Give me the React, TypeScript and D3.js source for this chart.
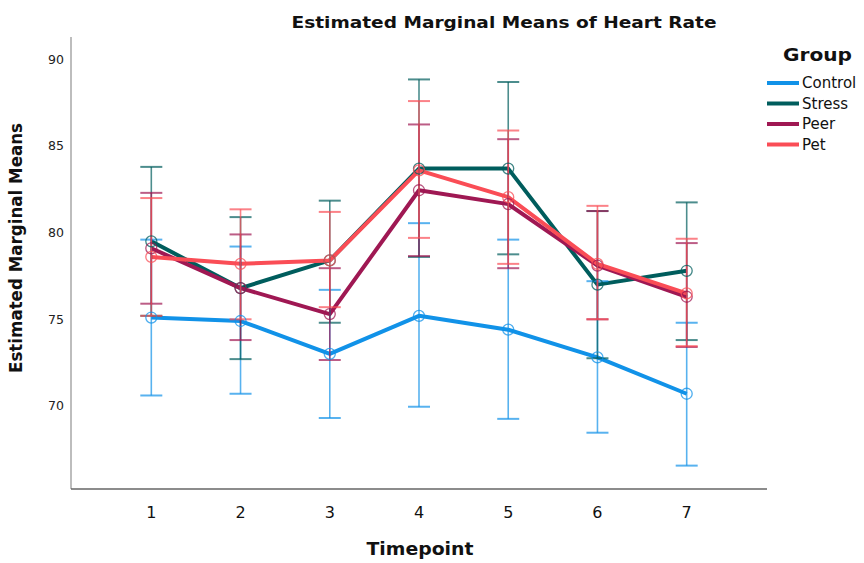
import React from "react";
import * as d3 from "d3";

const timepoints = [1, 2, 3, 4, 5, 6, 7];
const groups = ["Control", "Stress", "Peer", "Pet"];
const colors = ["#1192e8", "#005d5d", "#9f1853", "#fa4d56"];

const controlMean = [75.1, 74.9, 73.0, 75.2, 74.4, 72.8, 70.7];
const controlLo = [70.6, 70.7, 69.3, 69.95, 69.25, 68.45, 66.55];
const controlHi = [79.6, 79.2, 76.7, 80.55, 79.6, 77.2, 74.8];

const stressMean = [79.5, 76.8, 78.4, 83.7, 83.7, 77.0, 77.8];
const stressLo = [75.2, 72.7, 74.8, 78.6, 78.75, 72.75, 73.8];
const stressHi = [83.8, 80.9, 81.85, 88.85, 88.7, 81.25, 81.75];

const peerMean = [79.1, 76.8, 75.3, 82.45, 81.65, 78.1, 76.3];
const peerLo = [75.9, 73.8, 72.65, 78.65, 77.95, 75.0, 73.4];
const peerHi = [82.3, 79.9, 77.95, 86.25, 85.4, 81.25, 79.4];

const petMean = [78.6, 78.2, 78.4, 83.6, 82.05, 78.2, 76.5];
const petLo = [75.2, 75.0, 75.7, 79.7, 78.2, 75.0, 73.45];
const petHi = [82.0, 81.35, 81.2, 87.6, 85.9, 81.55, 79.65];

const yTicks = [70, 75, 80, 85, 90];

const series = [
  { name: groups[0], color: colors[0], mean: controlMean, lo: controlLo, hi: controlHi },
  { name: groups[1], color: colors[1], mean: stressMean, lo: stressLo, hi: stressHi },
  { name: groups[2], color: colors[2], mean: peerMean, lo: peerLo, hi: peerHi },
  { name: groups[3], color: colors[3], mean: petMean, lo: petLo, hi: petHi },
];

const FONT = "'DejaVu Sans', 'Open Sans', sans-serif";

export default function App() {
  const W = 864, H = 563;
  const left = 71, right = 767, top = 37, bottom = 489;
  const x = d3.scalePoint<number>().domain(timepoints).range([left, right]).padding(0.9);
  const y = d3.scaleLinear().domain([65.2, 91.3]).range([bottom, top]);
  const line = d3
    .line<number>()
    .x((_, i) => x(timepoints[i]) as number)
    .y((d) => y(d));
  const capW = 11;

  return (
    <svg width={W} height={H} style={{ position: "absolute", left: 0, top: 0, background: "#fff" }}>
      <text x={504} y={28} textAnchor="middle" fontFamily={FONT} fontWeight="bold" fontSize={16} fill="#111"
        textLength={425} lengthAdjust="spacingAndGlyphs">
        Estimated Marginal Means of Heart Rate
      </text>

      {/* axes */}
      <line x1={left} x2={left} y1={top} y2={bottom} stroke="#9a9a9a" strokeWidth={1.3} />
      <line x1={left} x2={right} y1={bottom} y2={bottom} stroke="#666" strokeWidth={1.3} />
      {yTicks.map((t) => (
        <text key={t} x={64} y={y(t)} dy="0.35em" textAnchor="end" fontFamily={FONT} fontSize={12.5} fill="#222">
          {t}
        </text>
      ))}
      {timepoints.map((t) => (
        <text key={t} x={x(t)} y={518} textAnchor="middle" fontFamily={FONT} fontSize={16} fill="#111">
          {t}
        </text>
      ))}
      <text x={420} y={555} textAnchor="middle" fontFamily={FONT} fontWeight="bold" fontSize={17} fill="#111"
        textLength={107} lengthAdjust="spacingAndGlyphs">
        Timepoint
      </text>
      <text
        transform={`translate(22,${248}) rotate(-90)`}
        textAnchor="middle"
        fontFamily={FONT}
        fontWeight="bold"
        fontSize={17}
        fill="#111"
        textLength={250}
        lengthAdjust="spacingAndGlyphs"
      >
        Estimated Marginal Means
      </text>

      {/* lines */}
      {series.map((s) => (
        <path key={s.name} d={line(s.mean) || ""} fill="none" stroke={s.color} strokeWidth={4} strokeLinejoin="round" />
      ))}
      {/* error bars */}
      {series.map((s) => (
        <g key={s.name} stroke={s.color} strokeOpacity={0.7} strokeWidth={1.6}>
          {timepoints.map((t, i) => {
            const cx = x(t) as number;
            return (
              <g key={t}>
                <line x1={cx} x2={cx} y1={y(s.lo[i])} y2={y(s.hi[i])} />
                <line x1={cx - capW} x2={cx + capW} y1={y(s.lo[i])} y2={y(s.lo[i])} strokeWidth={2} />
                <line x1={cx - capW} x2={cx + capW} y1={y(s.hi[i])} y2={y(s.hi[i])} strokeWidth={2} />
              </g>
            );
          })}
        </g>
      ))}
      {/* markers */}
      {series.map((s) => (
        <g key={s.name} fill="none" stroke={s.color} strokeOpacity={0.75} strokeWidth={1.3}>
          {timepoints.map((t, i) => (
            <circle key={t} cx={x(t) as number} cy={y(s.mean[i])} r={5.5} />
          ))}
        </g>
      ))}

      {/* legend */}
      <text x={783} y={61} fontFamily={FONT} fontWeight="bold" fontSize={18} fill="#111"
        textLength={69} lengthAdjust="spacingAndGlyphs">
        Group
      </text>
      {series.map((s, i) => (
        <g key={s.name} transform={`translate(767,${83 + i * 20.5})`}>
          <line x1={0} x2={32} y1={0} y2={0} stroke={s.color} strokeWidth={4} />
          <text x={35} y={0} dy="0.35em" fontFamily={FONT} fontSize={15} fill="#111">
            {s.name}
          </text>
        </g>
      ))}
    </svg>
  );
}
